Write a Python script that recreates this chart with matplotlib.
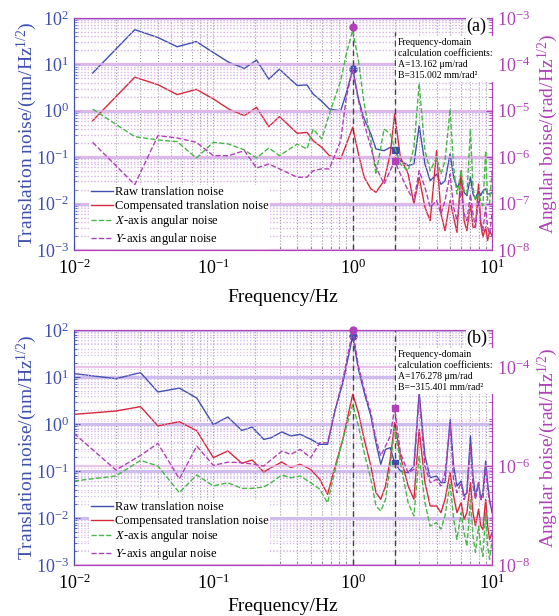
import matplotlib
matplotlib.use("Agg")
import matplotlib.pyplot as plt

plt.rcParams['font.family'] = ['Liberation Serif', 'DejaVu Serif']
plt.rcParams['mathtext.fontset'] = 'custom'
plt.rcParams['mathtext.rm'] = 'Liberation Serif'
plt.rcParams['mathtext.it'] = 'Liberation Serif:italic'

# ---- panel (a) ----
freq_a = [0.0136, 0.0273, 0.040, 0.055, 0.0755, 0.10, 0.129, 0.167, 0.204, 0.25, 0.298,
          0.40, 0.47, 0.52, 0.60, 0.68, 0.82, 0.90,
          1.0, 1.1, 1.21, 1.35, 1.47, 1.68, 1.86,
          2.0, 2.2, 2.5, 2.75, 3.0, 3.3, 3.6, 4.0, 4.3, 4.6, 5.0, 5.3, 5.6,
          6.0, 6.3, 6.6, 7.0, 7.3, 7.6, 8.0, 8.3, 8.6, 9.0, 9.3, 9.6, 10.0]
raw_a = [6.5, 56, 38, 24, 31, 18, 11.1, 8.2, 12.4, 4.8, 7.9,
         3.5, 3.6, 2.3, 1.6, 1.09, 1.0, 2.4,
         8.0, 1.8, 0.665, 0.316, 0.150, 0.138, 0.163,
         0.14, 0.084, 0.066, 0.071, 0.48, 0.071, 0.031, 0.043, 0.026, 0.031, 0.117, 0.037, 0.0224,
         0.031, 0.0175, 0.0148, 0.037, 0.0161, 0.0126, 0.019, 0.0148, 0.019, 0.0207, 0.0161, 0.0161, 0.017]
comp_a = [0.61, 5.3, 3.65, 2.23, 2.9, 1.8, 1.09, 0.785, 1.19, 0.455, 0.75,
          0.327, 0.343, 0.227, 0.163, 0.108, 0.0915, 0.19,
          0.44, 0.117, 0.0368, 0.0207, 0.0175, 0.0312, 0.117,
          0.853, 0.099, 0.0435, 0.0098, 0.0368, 0.0083, 0.0043, 0.138, 0.006, 0.0026, 0.0116, 0.0051, 0.0024,
          0.051, 0.0043, 0.0026, 0.0098, 0.0031, 0.0031, 0.0264, 0.0036, 0.0019, 0.0031, 0.0016, 0.0026, 0.002]
angx_a = [1.09e-5, 2.77e-6, 2.35e-6, 2.16e-6, 9.6e-7, 2.09e-6, 1.92e-6, 1.43e-6, 9.6e-7, 1.58e-6, 1.08e-6,
          1.92e-6, 1.5e-6, 4.05e-6, 2.47e-6, 8.5e-6, 4.46e-5, 1.67e-4,
          5.5e-4, 1.2e-4, 1.4e-5, 2.27e-6, 4.3e-7, 4.05e-6, 3.16e-6,
          1.63e-6, 7.1e-7, 5.1e-7, 1.63e-6, 3.8e-5, 1.38e-6, 5.1e-7, 9.9e-7, 4.3e-7, 8.4e-7, 1.09e-5, 6.05e-7, 1.6e-7,
          5.1e-7, 1.9e-7, 1.6e-7, 4.05e-6, 2.24e-7, 1.16e-7, 1.6e-7, 1.16e-7, 9e-8, 1.38e-6, 1.16e-7, 1.0e-7, 5.1e-7]
angy_a = [2.09e-6, 2.56e-7, 2.91e-6, 2.6e-6, 2.09e-6, 1.08e-6, 1.08e-6, 1.38e-6, 5.85e-7, 7.1e-7, 5.6e-7,
          3.7e-7, 3.7e-7, 5.1e-7, 5.6e-7, 5.6e-7, 2.27e-6, 1.95e-5,
          8e-5, 1.65e-5, 5.2e-6, 1.63e-6, 6.05e-7, 2.64e-7, 5.1e-7,
          8.4e-7, 4.3e-7, 1.9e-7, 1.16e-7, 5.1e-7, 2.24e-7, 8.3e-8, 1.16e-7, 6e-8, 1.16e-7, 4.3e-7, 8.3e-8, 4.3e-8,
          1.9e-7, 6e-8, 4.3e-8, 1.6e-7, 6e-8, 3.1e-8, 1.16e-7, 4.3e-8, 2.6e-8, 8.3e-8, 3.1e-8, 2.2e-8, 6e-8]
mark_raw_a = [8.0, 0.14]
mark_ang_a = [6.5e-4, 8.4e-7]
coef_a = "Frequency-domain\ncalculation coefficients:\nA=13.162 μm/rad\nB=315.002 mm/rad²"

# ---- panel (b) ----
freq_b = [0.01, 0.02, 0.03, 0.04, 0.057, 0.076, 0.10, 0.127, 0.16, 0.19, 0.23, 0.26, 0.31,
          0.36, 0.42, 0.50, 0.58, 0.66, 0.75, 0.85,
          1.0, 1.1, 1.21, 1.35, 1.47, 1.59, 1.72, 1.86,
          2.0, 2.2, 2.5, 2.75, 3.0, 3.3, 3.6, 4.0, 4.3, 4.6, 5.0, 5.3, 5.6,
          6.0, 6.3, 6.6, 7.0, 7.3, 7.6, 8.0, 8.3, 8.6, 9.0, 9.3, 9.6, 10.0]
raw_b = [11.8, 9.2, 12.4, 4.8, 5.8, 3.57, 0.97, 1.41, 0.73, 0.86, 0.47, 0.51, 0.68,
         0.556, 0.603, 0.472, 0.369, 0.369, 2.05, 7.57,
         74.5, 14.5, 4.65, 1.48, 0.40, 0.139, 0.289, 0.313,
         0.15, 0.1, 0.092, 0.128, 4.65, 0.208, 0.072, 0.078, 0.0565, 0.0565, 1.26, 0.128, 0.048,
         0.061, 0.0294, 0.0346, 0.556, 0.078, 0.0294, 0.0565, 0.025, 0.0346, 0.163, 0.0565, 0.025, 0.013]
comp_b = [1.6, 1.89, 2.34, 0.91, 1.12, 0.72, 0.192, 0.267, 0.146, 0.171, 0.095, 0.118, 0.155,
          0.118, 0.139, 0.108, 0.0665, 0.0319, 0.128, 0.472,
          4.3, 1.74, 0.472, 0.128, 0.0346, 0.025, 0.048, 0.177,
          1.07, 0.208, 0.048, 0.025, 0.77, 0.0565, 0.018, 0.018, 0.013, 0.025, 0.092, 0.0294, 0.013,
          0.0212, 0.0094, 0.013, 0.0565, 0.013, 0.0068, 0.0153, 0.0068, 0.0057, 0.025, 0.0068, 0.0035, 0.0049]
angx_b = [4.98e-7, 6.3e-7, 1.3e-6, 1.0e-6, 2.9e-7, 6.6e-7, 3.95e-7, 4.6e-7, 3.54e-7, 3.54e-7, 3.77e-7, 4.6e-7, 6.6e-7,
          5.8e-7, 6.3e-7, 4.6e-7, 3.4e-7, 1.8e-7, 8.6e-7, 3.46e-6,
          1.76e-5, 6.4e-6, 1.86e-6, 5.4e-7, 1.56e-7, 1.23e-7, 2.1e-7, 1e-6,
          5.9e-6, 1.17e-6, 1.8e-7, 9.8e-8, 1.6e-6, 1.8e-7, 6.1e-8, 7.2e-8, 5.3e-8, 9.8e-8, 4.6e-7, 8.5e-8, 3.3e-8,
          1.14e-7, 4.5e-8, 2.4e-8, 2.1e-7, 3.9e-8, 1.8e-8, 6.1e-8, 2.4e-8, 1.5e-8, 1.14e-7, 2.4e-8, 1.3e-8, 3.3e-8]
angy_b = [4.57e-6, 8.3e-7, 1.64e-6, 2.87e-6, 5.5e-7, 2.54e-6, 1.03e-6, 1.2e-6, 1.17e-6, 1.1e-6, 1e-6, 1.34e-6, 2.0e-6,
          1.72e-6, 2.17e-6, 1.47e-6, 2.96e-6, 2.96e-6, 1.4e-5, 5.6e-5,
          5.5e-4, 1.05e-4, 3.54e-5, 1.19e-5, 3.46e-6, 1.6e-6, 2.53e-6, 4.04e-6,
          1.5e-5, 1.86e-6, 7.3e-7, 8.6e-7, 2.6e-5, 1e-6, 4.6e-7, 5.4e-7, 3.95e-7, 7.3e-7, 7e-6, 5.4e-7, 2.9e-7,
          4.6e-7, 2.1e-7, 2.9e-7, 2.53e-6, 3.95e-7, 2.1e-7, 4.6e-7, 2.1e-7, 2.1e-7, 1e-6, 3.4e-7, 1.8e-7, 1.56e-7]
mark_raw_b = [74.5, 0.15]
mark_ang_b = [5.5e-4, 1.5e-5]
coef_b = "Frequency-domain\ncalculation coefficients:\nA=176.278 μm/rad\nB=−315.401 mm/rad²"

mark_f = [1.0, 2.0]
labels = ["Raw translation noise", "Compensated translation noise",
          "$X$-axis angular noise", "$Y$-axis angular noise"]

BLUE = '#3f4fb0'
RED = '#d9283c'
GREEN = '#45b845'
PURPLE = '#b041b8'
GRID_L = '#cbbdee'
GRID_R = '#e6b6e6'

fig = plt.figure(figsize=(5.59, 6.16), dpi=100)


def panel(rect, freq, raw, comp, angx, angy, m_raw, m_ang, coef, tag,
          right_lim, right_ticks, f2_top, xpad):
    ax = fig.add_axes(rect)
    ax2 = ax.twinx()
    ax.set_xscale('log')
    ax.set_yscale('log')
    ax2.set_yscale('log')
    ax.set_xlim(1e-2, 10)
    ax.set_ylim(1e-3, 1e2)
    ax2.set_ylim(*right_lim)
    ax2.set_yticks(right_ticks)

    # grids: grey dotted verticals, lavender horizontals for both y scales
    ax.grid(True, which='both', axis='x', color='#9a9a9a', ls=':', lw=0.8)
    ax.grid(True, which='major', axis='y', color=GRID_L, ls='-', lw=2.2)
    ax.grid(True, which='minor', axis='y', color=GRID_L, ls=':', lw=0.9)
    ax2.set_axisbelow(True)
    ax2.grid(True, which='major', axis='y', color=GRID_R, ls='-', lw=1.6, alpha=0.8)
    ax2.grid(True, which='minor', axis='y', color=GRID_R, ls=':', lw=0.9, alpha=0.8)

    l1, = ax.plot(freq, raw, color=BLUE, lw=1.0)
    l2, = ax.plot(freq, comp, color=RED, lw=1.0)
    l3, = ax2.plot(freq, angx, color=GREEN, lw=1.0, ls='--')
    l4, = ax2.plot(freq, angy, color=PURPLE, lw=1.0, ls='--')

    ax2.axvline(1.0, color='#454545', ls=(0, (4, 3)), lw=1.0, zorder=1)
    ax2.axvline(2.0, ymax=f2_top, color='#454545', ls=(0, (4, 3)), lw=1.0, zorder=1)

    ax.plot(mark_f[:1], m_raw[:1], 'o', color=BLUE, ms=5, zorder=6, clip_on=False)
    ax.plot(mark_f[1:], m_raw[1:], 's', color=BLUE, ms=4.5, zorder=6, clip_on=False)
    ax2.plot(mark_f[:1], m_ang[:1], 'o', color=PURPLE, ms=5, zorder=6, clip_on=False)
    ax2.plot(mark_f[1:], m_ang[1:], 's', color=PURPLE, ms=4.5, zorder=6, clip_on=False)

    ax.tick_params(axis='y', which='both', direction='in', colors=BLUE, labelsize=13)
    ax.tick_params(axis='x', which='both', direction='in', labelsize=13, color='#555555', pad=6)
    ax.tick_params(which='major', length=4)
    ax.tick_params(which='minor', length=2)
    ax2.tick_params(axis='y', which='both', direction='in', colors=PURPLE, labelsize=13)
    ax2.tick_params(which='major', length=4)
    ax2.tick_params(which='minor', length=2)
    for a in (ax, ax2):
        a.spines['left'].set_color(BLUE)
        a.spines['right'].set_color(PURPLE)
        a.spines['top'].set_color(PURPLE)
        a.spines['bottom'].set_color(PURPLE)

    ax.set_xlabel("Frequency/Hz", fontsize=14, labelpad=xpad)
    ax.set_ylabel("Translation noise/(nm/Hz$^{1/2}$)", fontsize=14, color=BLUE, labelpad=-2)
    ax2.set_ylabel("Angular boise/(rad/Hz$^{1/2}$)", fontsize=14, color=PURPLE, labelpad=4)

    ax2.text(0.775, 0.915, coef, transform=ax2.transAxes, ha='left', va='top',
             fontsize=7, linespacing=1.3, zorder=8,
             bbox=dict(facecolor='white', edgecolor='none', pad=1.5))
    ax2.text(0.963, 0.963, tag, transform=ax2.transAxes, ha='center', va='center',
             fontsize=13, zorder=9,
             bbox=dict(facecolor='white', edgecolor='none', pad=0.3))

    leg = ax2.legend([l1, l2, l3, l4], labels, loc='lower left', bbox_to_anchor=(0.035, 0.005),
                     fontsize=9, frameon=True, framealpha=1, edgecolor='none', fancybox=False,
                     borderaxespad=0, handlelength=1.8, handletextpad=0.15, labelspacing=0.12,
                     borderpad=0.15)
    leg.set_zorder(9)
    return ax, ax2


panel([0.1324, 0.5942, 0.7478, 0.3766], freq_a, raw_a, comp_a, angx_a, angy_a,
      mark_raw_a, mark_ang_a, coef_a, "(a)", (1e-8, 1e-3),
      [1e-8, 1e-7, 1e-6, 1e-5, 1e-4, 1e-3], 0.94, 8)
panel([0.1324, 0.0828, 0.7478, 0.3815], freq_b, raw_b, comp_b, angx_b, angy_b,
      mark_raw_b, mark_ang_b, coef_b, "(b)", (1e-8, 10 ** -3.25),
      [1e-8, 1e-6, 1e-4], 1.0, 4)

fig.savefig("out.png", dpi=100)
